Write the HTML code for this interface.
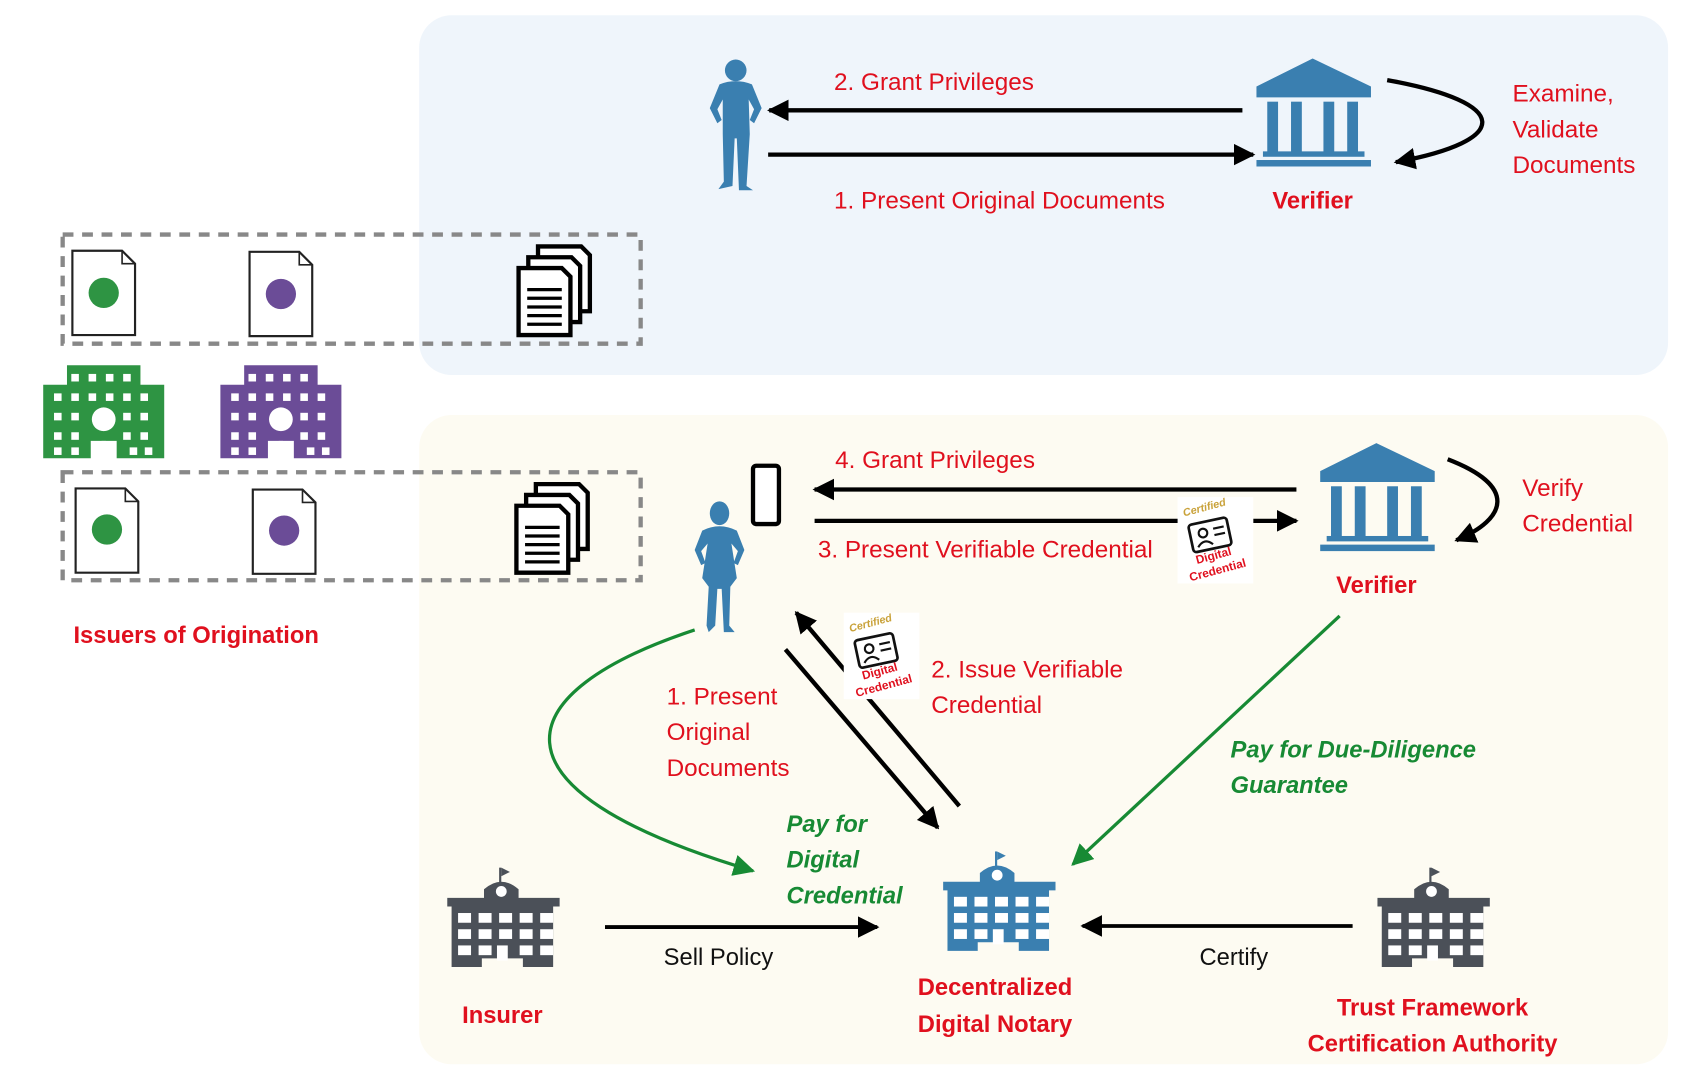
<!DOCTYPE html>
<html><head><meta charset="utf-8"><style>
html,body{margin:0;padding:0;background:#fff}
svg{display:block}
text{font-family:"Liberation Sans Narrow","Liberation Sans",sans-serif}
.r{fill:#e0101e;font-size:22.5px}
.rb{fill:#e0101e;font-size:22px;font-weight:bold}
.g{fill:#178a34;font-size:22px;font-weight:bold;font-style:italic}
.k{fill:#111;font-size:22px}
</style></head><body>
<svg width="1694" height="1086" viewBox="0 0 1568 1005" xmlns="http://www.w3.org/2000/svg">
<defs>
<marker id="ahg" viewBox="0 0 10 10" refX="9" refY="5" markerWidth="20" markerHeight="20" orient="auto" markerUnits="userSpaceOnUse">
<path d="M0,0 L10,5 L0,10 Z" fill="#178a34"/>
</marker>
<marker id="ak" viewBox="0 0 10 10" refX="9" refY="5" markerWidth="20" markerHeight="20" orient="auto" markerUnits="userSpaceOnUse">
<path d="M0,0 L10,5 L0,10 Z" fill="#000"/>
</marker>
<g id="doc">
<path d="M0,0 L46,0 L58,12 L58,78 L0,78 Z" fill="#fff" stroke="#222" stroke-width="2"/>
<path d="M46,0 L46,12 L58,12" fill="none" stroke="#222" stroke-width="1.5"/>
</g>
<g id="stack">
<path d="M18,0 H58 L66,8 V60 H18 Z" fill="#fff" stroke="#000" stroke-width="4"/>
<path d="M9,10 H49 L57,18 V70 H9 Z" fill="#fff" stroke="#000" stroke-width="4"/>
<path d="M0,20 H40 L48,28 V82 H0 Z" fill="#fff" stroke="#000" stroke-width="4"/>
<g stroke="#000" stroke-width="3"><line x1="8" y1="40" x2="40" y2="40"/><line x1="8" y1="48" x2="40" y2="48"/><line x1="8" y1="56" x2="40" y2="56"/><line x1="8" y1="64" x2="40" y2="64"/><line x1="8" y1="72" x2="40" y2="72"/></g>
</g>
<g id="hosp">
<path d="M0,18 H22 V0 H90 V18 H112 V86 H68 V70 H44 V86 H0 Z"/>
<g fill="#fff">
<rect x="26" y="8" width="7" height="7"/><rect x="42" y="8" width="7" height="7"/><rect x="58" y="8" width="7" height="7"/><rect x="74" y="8" width="7" height="7"/>
<rect x="10" y="26" width="7" height="7"/><rect x="26" y="26" width="7" height="7"/><rect x="42" y="26" width="7" height="7"/><rect x="58" y="26" width="7" height="7"/><rect x="74" y="26" width="7" height="7"/><rect x="90" y="26" width="7" height="7"/>
<rect x="10" y="44" width="7" height="7"/><rect x="26" y="44" width="7" height="7"/><rect x="74" y="44" width="7" height="7"/><rect x="90" y="44" width="7" height="7"/>
<rect x="10" y="62" width="7" height="7"/><rect x="26" y="62" width="7" height="7"/><rect x="74" y="62" width="7" height="7"/><rect x="90" y="62" width="7" height="7"/>
<rect x="10" y="76" width="7" height="7"/><rect x="26" y="76" width="7" height="7"/><rect x="80" y="76" width="7" height="7"/><rect x="94" y="76" width="7" height="7"/>
<circle cx="56" cy="50" r="11"/>
</g>
<rect x="54" y="70" width="4" height="16" fill="#fff"/>
</g>
<g id="temple">
<path d="M52,0 L106,26 V36 H0 V26 Z"/>
<rect x="10" y="40" width="10" height="48"/><rect x="32" y="40" width="10" height="48"/><rect x="62" y="40" width="10" height="48"/><rect x="84" y="40" width="10" height="48"/>
<rect x="6" y="86" width="94" height="5"/><rect x="0" y="94" width="106" height="6"/>
</g>
<g id="bldg">
<rect x="48" y="0" width="2" height="14"/><path d="M50,0 L58,4 L50,8Z"/>
<path d="M34,20 Q50,6 66,20 V28 H104 V36 H98 V92 H70 V84 H32 V92 H4 V36 H0 V28 H34 Z"/>
<g fill="#fff"><circle cx="50" cy="22" r="5"/>
<rect x="10" y="42" width="12" height="9"/><rect x="29" y="42" width="12" height="9"/><rect x="48" y="42" width="12" height="9"/><rect x="67" y="42" width="12" height="9"/><rect x="86" y="42" width="12" height="9"/>
<rect x="10" y="57" width="12" height="9"/><rect x="29" y="57" width="12" height="9"/><rect x="48" y="57" width="12" height="9"/><rect x="67" y="57" width="12" height="9"/><rect x="86" y="57" width="12" height="9"/>
<rect x="10" y="72" width="12" height="9"/><rect x="29" y="72" width="12" height="9"/><rect x="46" y="72" width="10" height="14"/><rect x="67" y="72" width="12" height="9"/><rect x="86" y="72" width="12" height="9"/>
</g>
</g>
<g id="man">
<circle cx="24" cy="11" r="10"/>
<path d="M9,24 Q24,18 39,24 L48,46 L41,60 L37,57 L41,47 L36,38 L37,70 L34,118 L40,122 L27,122 L25,74 L23,74 L21,118 L8,121 L13,114 L12,70 L12,38 L7,47 L11,57 L7,60 L0,46 Z"/>
</g>
<g id="woman">
<ellipse cx="24" cy="12" rx="9" ry="11"/>
<path d="M8,28 Q24,20 40,28 L47,46 L41,60 L37,58 L41,47 L35,40 L40,72 L34,80 L33,116 L38,122 L28,122 L26,82 L22,82 L20,116 L14,122 L12,116 L14,80 L8,72 L13,40 L7,47 L11,58 L7,60 L1,46 Z"/>
</g>
<g id="cred">
<rect x="0" y="0" width="70" height="80" fill="#fff"/>
<text x="6" y="18" font-size="10" fill="#c9a23a" font-style="italic" font-weight="bold" transform="rotate(-15 6 18)">Certified</text>
<g transform="rotate(-12 30 35)"><rect x="12" y="22" width="36" height="26" rx="3" fill="none" stroke="#111" stroke-width="2.5"/>
<circle cx="24" cy="32" r="4" fill="none" stroke="#111" stroke-width="2"/><path d="M17,44 Q24,36 31,44" fill="none" stroke="#111" stroke-width="2"/>
<line x1="34" y1="30" x2="44" y2="30" stroke="#111" stroke-width="2"/><line x1="34" y1="36" x2="44" y2="36" stroke="#111" stroke-width="2"/></g>
<text x="18" y="62" font-size="11" fill="#e0101e" font-weight="bold" transform="rotate(-15 18 62)">Digital</text>
<text x="12" y="78" font-size="11" fill="#e0101e" font-weight="bold" transform="rotate(-15 12 78)">Credential</text>
</g>
</defs>

<rect x="388" y="14" width="1156" height="333" rx="30" fill="#eff5fb"/>
<rect x="388" y="384" width="1156" height="601" rx="30" fill="#fdfbf2"/>

<rect x="58" y="217" width="535" height="101" fill="none" stroke="#888" stroke-width="4" stroke-dasharray="10,8"/>
<rect x="58" y="437" width="535" height="100" fill="none" stroke="#888" stroke-width="4" stroke-dasharray="10,8"/>
<use href="#doc" x="67" y="232"/><circle cx="96" cy="271" r="14" fill="#2e9443"/>
<use href="#doc" x="231" y="233"/><circle cx="260" cy="272" r="14" fill="#6b4c97"/>
<use href="#doc" x="70" y="452"/><circle cx="99" cy="490" r="14" fill="#2e9443"/>
<use href="#doc" x="234" y="453"/><circle cx="263" cy="491" r="14" fill="#6b4c97"/>
<use href="#stack" x="480" y="228"/>
<use href="#stack" x="478" y="448"/>
<use href="#hosp" x="40" y="338" fill="#2e9443"/>
<use href="#hosp" x="204" y="338" fill="#6b4c97"/>
<text x="68" y="595" class="rb">Issuers of Origination</text>

<use href="#man" x="657" y="54" fill="#3a7fb0"/>
<line x1="1150" y1="102" x2="712" y2="102" stroke="#000" stroke-width="4" marker-end="url(#ak)"/>
<line x1="711" y1="143" x2="1160" y2="143" stroke="#000" stroke-width="4" marker-end="url(#ak)"/>
<text x="772" y="83" class="r">2. Grant Privileges</text>
<text x="772" y="193" class="r">1. Present Original Documents</text>
<use href="#temple" x="1163" y="54" fill="#3a7fb0"/>
<text x="1215" y="193" class="rb" text-anchor="middle">Verifier</text>
<path d="M1284,74 C1400,95 1400,130 1292,150" fill="none" stroke="#000" stroke-width="4" marker-end="url(#ak)"/>
<text x="1400" y="94" class="r">Examine,</text>
<text x="1400" y="127" class="r">Validate</text>
<text x="1400" y="160" class="r">Documents</text>

<rect x="697" y="431" width="24" height="54" rx="3" fill="#fff" stroke="#000" stroke-width="4"/>
<use href="#woman" x="642" y="463" fill="#3a7fb0"/>
<line x1="1200" y1="453" x2="754" y2="453" stroke="#000" stroke-width="4" marker-end="url(#ak)"/>
<line x1="754" y1="482" x2="1092" y2="482" stroke="#000" stroke-width="4"/>
<line x1="1160" y1="482" x2="1200" y2="482" stroke="#000" stroke-width="4" marker-end="url(#ak)"/>
<text x="773" y="433" class="r">4. Grant Privileges</text>
<text x="757" y="516" class="r">3. Present Verifiable Credential</text>
<use href="#cred" x="1090" y="460"/>
<use href="#temple" x="1222" y="410" fill="#3a7fb0"/>
<text x="1274" y="549" class="rb" text-anchor="middle">Verifier</text>
<path d="M1340,425 C1405,450 1395,480 1348,500" fill="none" stroke="#000" stroke-width="4" marker-end="url(#ak)"/>
<text x="1409" y="459" class="r">Verify</text>
<text x="1409" y="492" class="r">Credential</text>

<path d="M643,583 C470,640 440,730 697,806" fill="none" stroke="#178a34" stroke-width="3" marker-end="url(#ahg)"/>
<text x="617" y="652" class="r">1. Present</text>
<text x="617" y="685" class="r">Original</text>
<text x="617" y="718" class="r">Documents</text>
<line x1="727" y1="601" x2="868" y2="766" stroke="#000" stroke-width="4" marker-end="url(#ak)"/>
<line x1="888" y1="746" x2="737" y2="567" stroke="#000" stroke-width="4" marker-end="url(#ak)"/>
<use href="#cred" x="781" y="567"/>
<text x="862" y="627" class="r">2. Issue Verifiable</text>
<text x="862" y="660" class="r">Credential</text>
<line x1="1240" y1="570" x2="993" y2="800" stroke="#178a34" stroke-width="3" marker-end="url(#ahg)"/>
<text x="1139" y="701" class="g">Pay for Due-Diligence</text>
<text x="1139" y="734" class="g">Guarantee</text>
<text x="728" y="770" class="g">Pay for</text>
<text x="728" y="803" class="g">Digital</text>
<text x="728" y="836" class="g">Credential</text>

<use href="#bldg" x="414" y="803" fill="#4b5058"/>
<text x="465" y="947" class="rb" text-anchor="middle">Insurer</text>
<line x1="560" y1="858" x2="812" y2="858" stroke="#000" stroke-width="3.5" marker-end="url(#ak)"/>
<text x="665" y="893" class="k" text-anchor="middle">Sell Policy</text>
<use href="#bldg" x="873" y="788" fill="#3a7fb0"/>
<text x="921" y="921" class="rb" text-anchor="middle">Decentralized</text>
<text x="921" y="955" class="rb" text-anchor="middle">Digital Notary</text>
<line x1="1252" y1="857" x2="1002" y2="857" stroke="#000" stroke-width="3.5" marker-end="url(#ak)"/>
<text x="1142" y="893" class="k" text-anchor="middle">Certify</text>
<use href="#bldg" x="1275" y="803" fill="#4b5058"/>
<text x="1326" y="940" class="rb" text-anchor="middle">Trust Framework</text>
<text x="1326" y="973" class="rb" text-anchor="middle">Certification Authority</text>
</svg>
</body></html>
